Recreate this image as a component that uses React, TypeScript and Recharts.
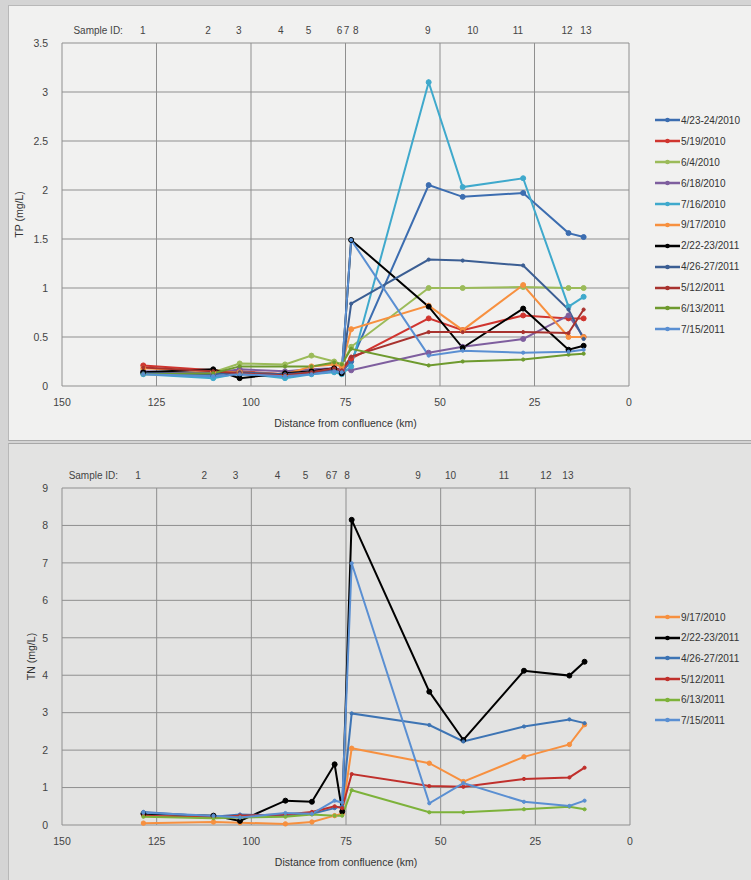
import React from 'react';
import { LineChart, Line, XAxis, YAxis, CartesianGrid, Legend, ReferenceDot } from 'recharts';

const FONT = '"Liberation Sans", Arial, sans-serif';

// Sample station distances (km from confluence), samples 1..13
const distances = [128.5, 110, 103, 91, 84, 78, 76, 73.5, 53, 44, 28, 16, 12];
const xTicks = [0, 25, 50, 75, 100, 125, 150];
const tpTicks = [0, 0.5, 1, 1.5, 2, 2.5, 3, 3.5];
const tnTicks = [0, 1, 2, 3, 4, 5, 6, 7, 8, 9];
const sampleIds = ['1', '2', '3', '4', '5', '6', '7', '8', '9', '10', '11', '12', '13'];
const tpSampleLabelPos = [128.6, 111.4, 103.2, 92.1, 84.8, 76.6, 74.7, 72.3, 53.2, 41.3, 29.4, 16.4, 11.4];
const tnSampleLabelPos = [129.9, 112.4, 104.2, 93.1, 85.7, 79.6, 78.0, 74.7, 56.0, 47.4, 33.3, 22.2, 16.4];

// TP (mg/L)
const tp_20100423 = [0.13, 0.10, 0.12, 0.10, 0.15, 0.15, 0.14, 0.25, 2.05, 1.93, 1.97, 1.56, 1.52];
const tp_20100519 = [0.21, 0.16, 0.15, 0.12, 0.14, 0.18, 0.16, 0.28, 0.69, 0.57, 0.72, 0.69, 0.69];
const tp_20100604 = [0.13, 0.14, 0.23, 0.22, 0.31, 0.25, 0.22, 0.40, 1.00, 1.00, 1.01, 1.00, 1.00];
const tp_20100618 = [0.15, 0.13, 0.17, 0.15, 0.17, 0.18, 0.17, 0.16, 0.34, 0.40, 0.48, 0.72, 0.50];
const tp_20100716 = [0.12, 0.08, 0.13, 0.08, 0.12, 0.14, 0.12, 0.20, 3.10, 2.03, 2.12, 0.81, 0.91];
const tp_20100917 = [0.18, 0.15, 0.14, 0.12, 0.20, 0.22, 0.20, 0.58, 0.82, 0.57, 1.03, 0.50, 0.50];
const tp_20110222 = [0.14, 0.17, 0.08, 0.13, 0.15, 0.18, 0.13, 1.49, 0.81, 0.39, 0.79, 0.37, 0.41];
const tp_20110426 = [0.13, 0.12, 0.14, 0.12, 0.14, 0.16, 0.14, 0.84, 1.29, 1.28, 1.23, 0.78, 0.48];
const tp_20110512 = [0.19, 0.15, 0.13, 0.11, 0.14, 0.18, 0.16, 0.30, 0.55, 0.55, 0.55, 0.54, 0.78];
const tp_20110613 = [0.12, 0.13, 0.20, 0.20, 0.20, 0.24, 0.22, 0.38, 0.21, 0.25, 0.27, 0.32, 0.33];
const tp_20110715 = [0.12, 0.10, 0.12, 0.10, 0.12, 0.15, 0.14, 1.49, 0.31, 0.36, 0.34, 0.35, 0.37];

// TN (mg/L)
const tn_20100917 = [0.05, 0.08, 0.06, 0.03, 0.08, 0.25, 0.30, 2.05, 1.65, 1.16, 1.82, 2.15, 2.68];
const tn_20110222 = [0.30, 0.25, 0.11, 0.65, 0.62, 1.62, 0.36, 8.15, 3.56, 2.27, 4.12, 3.99, 4.36];
const tn_20110426 = [0.35, 0.22, 0.28, 0.25, 0.30, 0.45, 0.50, 2.98, 2.67, 2.23, 2.63, 2.82, 2.72];
const tn_20110512 = [0.25, 0.20, 0.25, 0.28, 0.35, 0.50, 0.45, 1.36, 1.04, 1.02, 1.23, 1.27, 1.53];
const tn_20110613 = [0.22, 0.18, 0.20, 0.22, 0.28, 0.25, 0.25, 0.93, 0.34, 0.34, 0.42, 0.49, 0.42];
const tn_20110715 = [0.33, 0.25, 0.20, 0.32, 0.30, 0.65, 0.60, 6.99, 0.58, 1.12, 0.62, 0.51, 0.65];

type Series = { name: string; color: string; values: number[]; r: number };

const C = {
  a: '#3C6DB0',
  b: '#D0352F',
  c: '#9BBB59',
  d: '#7E5E9E',
  e: '#3FA9CC',
  f: '#F7903F',
  g: '#000000',
  h: '#3B5E93',
  i: '#A8322E',
  j: '#6E9A2E',
  k: '#5A8FD2',
};

const tpSeries: Series[] = [
  { name: '4/23-24/2010', color: C.a, values: tp_20100423, r: 2.5 },
  { name: '5/19/2010', color: C.b, values: tp_20100519, r: 2.5 },
  { name: '6/4/2010', color: C.c, values: tp_20100604, r: 2.5 },
  { name: '6/18/2010', color: C.d, values: tp_20100618, r: 2.5 },
  { name: '7/16/2010', color: C.e, values: tp_20100716, r: 2.5 },
  { name: '9/17/2010', color: C.f, values: tp_20100917, r: 2.5 },
  { name: '2/22-23/2011', color: C.g, values: tp_20110222, r: 2.5 },
  { name: '4/26-27/2011', color: C.h, values: tp_20110426, r: 1.6 },
  { name: '5/12/2011', color: C.i, values: tp_20110512, r: 1.6 },
  { name: '6/13/2011', color: C.j, values: tp_20110613, r: 1.6 },
  { name: '7/15/2011', color: C.k, values: tp_20110715, r: 1.6 },
];

const tnSeries: Series[] = [
  { name: '9/17/2010', color: C.f, values: tn_20100917, r: 2.2 },
  { name: '2/22-23/2011', color: C.g, values: tn_20110222, r: 2.5 },
  { name: '4/26-27/2011', color: '#3D74B4', values: tn_20110426, r: 1.6 },
  { name: '5/12/2011', color: '#C0302C', values: tn_20110512, r: 1.6 },
  { name: '6/13/2011', color: '#7DB23A', values: tn_20110613, r: 1.6 },
  { name: '7/15/2011', color: C.k, values: tn_20110715, r: 1.6 },
];

function buildRows(series: Series[]) {
  return distances.map((d, i) => {
    const row: Record<string, number> = { d };
    series.forEach((s, k) => {
      row['s' + k] = s.values[i];
    });
    return row;
  });
}

const makeLegend = (series: Series[], rowH: number) => () => (
  <div style={{ fontFamily: FONT, fontSize: 10, color: '#333' }}>
    {series.map((s, i) => (
      <div key={i} style={{ height: rowH, display: 'flex', alignItems: 'center' }}>
        <svg width={25} height={8} style={{ display: 'block' }}>
          <line x1={0} y1={4} x2={25} y2={4} stroke={s.color} strokeWidth={2.5} />
          <circle cx={12.5} cy={4} r={2.3} fill={s.color} />
        </svg>
        <span style={{ marginLeft: 1, whiteSpace: 'nowrap' }}>{s.name}</span>
      </div>
    ))}
  </div>
);

type PanelProps = {
  series: Series[];
  yTicks: number[];
  yMax: number;
  labelPos: number[];
  yLabel: string;
  margin: { top: number; right: number; bottom: number; left: number };
  legendTop: number;
  legendRow: number;
  yLabelX: number;
};

function Panel(p: PanelProps) {
  const rows = buildRows(p.series);
  const plotTop = p.margin.top;
  const plotBottom = 440 - p.margin.bottom - 44;
  const midY = (plotTop + plotBottom) / 2;

  const sampleLabel = (i: number) => (lp: any) => {
    const vb = lp.viewBox || {};
    const cx = (vb.x ?? 0) + (vb.width ?? 0) / 2;
    return (
      <g>
        {i === 0 ? (
          <text x={cx - 20} y={plotTop - 9} textAnchor="end" fontSize={10} fontFamily={FONT} fill="#444">
            Sample ID:
          </text>
        ) : null}
        <text x={cx} y={plotTop - 9} textAnchor="middle" fontSize={10} fontFamily={FONT} fill="#444">
          {sampleIds[i]}
        </text>
      </g>
    );
  };

  return (
    <LineChart width={751} height={440} data={rows} margin={p.margin}>
      <CartesianGrid stroke="#8f8f8f" strokeWidth={1} />
      <XAxis
        dataKey="d"
        type="number"
        domain={[0, 150]}
        reversed
        ticks={xTicks}
        interval={0}
        axisLine={false}
        tickLine={false}
        height={44}
        tickMargin={7}
        tick={{ fontSize: 10.5, fill: '#444', fontFamily: FONT }}
        label={{
          value: 'Distance from confluence (km)',
          position: 'insideBottom',
          offset: 3,
          style: { fontSize: 10.5, fill: '#333', fontFamily: FONT },
        }}
      />
      <YAxis
        type="number"
        domain={[0, p.yMax]}
        ticks={p.yTicks}
        interval={0}
        axisLine={false}
        tickLine={false}
        width={50}
        tick={{ fontSize: 10.5, fill: '#444', fontFamily: FONT, dx: -6 }}
        label={{
          content: () => (
            <text
              x={p.yLabelX}
              y={midY}
              transform={`rotate(-90 ${p.yLabelX} ${midY})`}
              textAnchor="middle"
              dominantBaseline="middle"
              fontSize={10.5}
              fontFamily={FONT}
              fill="#333"
            >
              {p.yLabel}
            </text>
          ),
        }}
      />
      {p.series.map((s, k) => (
        <Line
          key={s.name}
          type="linear"
          dataKey={'s' + k}
          name={s.name}
          stroke={s.color}
          strokeWidth={2}
          dot={{ r: s.r, fill: s.color, stroke: s.color, strokeWidth: 1 }}
          activeDot={false}
          isAnimationActive={false}
        />
      ))}
      {p.labelPos.map((pos, i) => (
        <ReferenceDot
          key={'sid' + i}
          x={pos}
          y={p.yMax}
          r={0}
          fill="none"
          stroke="none"
          ifOverflow="visible"
          label={{ content: sampleLabel(i) }}
        />
      ))}
      <Legend
        layout="vertical"
        align="center"
        verticalAlign="middle"
        wrapperStyle={{ left: 655, top: p.legendTop, width: 96 }}
        content={makeLegend(p.series, p.legendRow)}
      />
    </LineChart>
  );
}

export default function App() {
  return (
    <div
      style={{
        position: 'absolute',
        left: 0,
        top: 0,
        width: 751,
        height: 880,
        background: '#d4d4d4',
        overflow: 'hidden',
        fontFamily: FONT,
      }}
    >
      <div
        style={{
          position: 'absolute',
          left: 8,
          top: 5,
          width: 743,
          height: 434,
          background: '#f1f1f0',
          borderLeft: '1px solid #b8b8b8',
          borderTop: '1px solid #b8b8b8',
          borderBottom: '1px solid #a8a8a8',
        }}
      />
      <div
        style={{
          position: 'absolute',
          left: 8,
          top: 443,
          width: 743,
          height: 437,
          background: '#e3e3e2',
          borderLeft: '1px solid #b8b8b8',
          borderTop: '1px solid #a8a8a8',
        }}
      />
      <div style={{ position: 'absolute', left: 0, top: 0 }}>
        <Panel
          series={tpSeries}
          yTicks={tpTicks}
          yMax={3.5}
          labelPos={tpSampleLabelPos}
          yLabel="TP (mg/L)"
          margin={{ top: 43, right: 122, bottom: 10, left: 12 }}
          legendTop={110}
          legendRow={20.9}
          yLabelX={20}
        />
      </div>
      <div style={{ position: 'absolute', left: 0, top: 440 }}>
        <Panel
          series={tnSeries}
          yTicks={tnTicks}
          yMax={9}
          labelPos={tnSampleLabelPos}
          yLabel="TN (mg/L)"
          margin={{ top: 48, right: 121, bottom: 11, left: 12 }}
          legendTop={167}
          legendRow={20.6}
          yLabelX={32}
        />
      </div>
    </div>
  );
}
